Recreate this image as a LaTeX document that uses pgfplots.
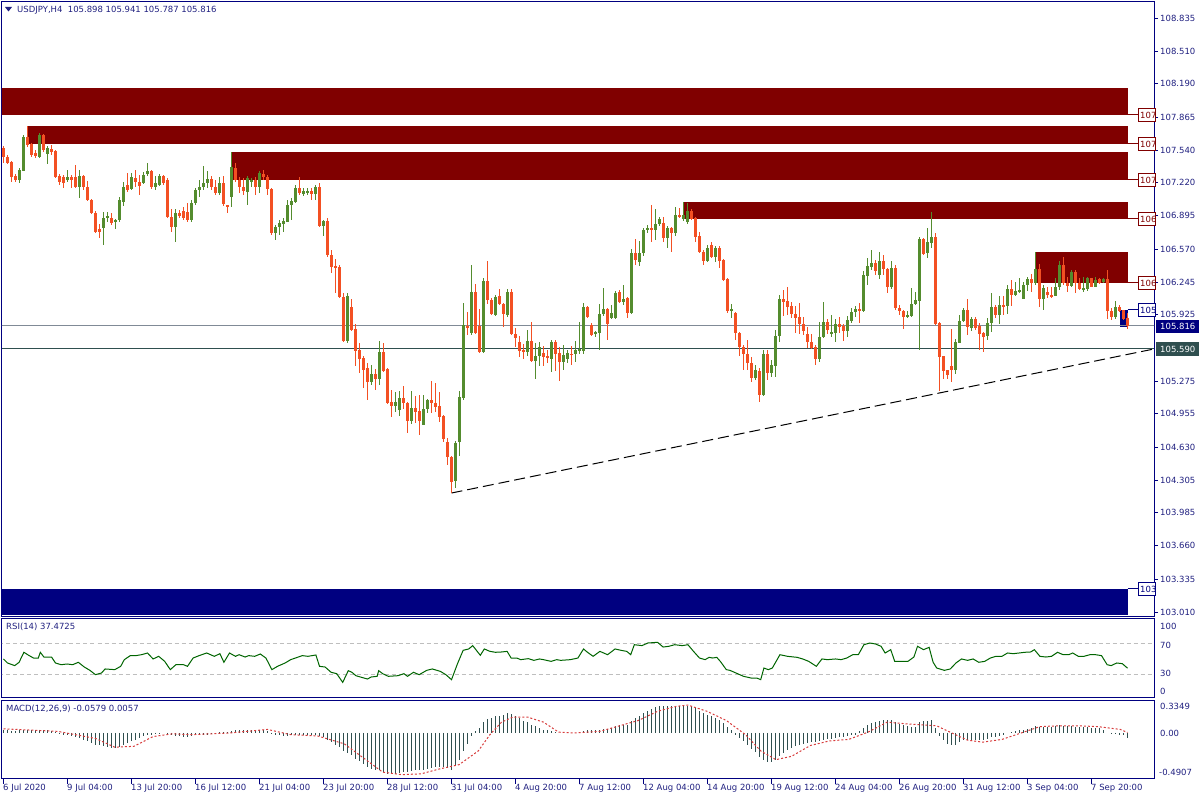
\documentclass[border=0pt]{standalone}
\usepackage{pgfplots}
\pgfplotsset{compat=1.18}
\usepackage{pgfplotstable}
\usepackage{fontspec}
\setmainfont{DejaVu Sans}
\definecolor{bull}{RGB}{84,140,46}
\definecolor{bear}{RGB}{243,80,35}
\definecolor{maroonc}{RGB}{128,0,0}
\definecolor{navyc}{RGB}{0,0,128}
\definecolor{txt}{RGB}{32,32,128}
\definecolor{dslate}{RGB}{47,79,79}
\definecolor{bidline}{RGB}{128,138,150}
\definecolor{rsigreen}{RGB}{0,100,0}
\definecolor{sigred}{RGB}{215,60,60}
\definecolor{lvl}{RGB}{190,190,190}
\newcommand{\lbl}{\fontsize{8.5}{10}\selectfont}

\pgfplotstableread{
x o h l c
0 107.561 107.580 107.414 107.472
1 107.472 107.492 107.404 107.414
2 107.423 107.433 107.227 107.276
3 107.286 107.306 107.227 107.247
4 107.247 107.365 107.217 107.345
5 107.335 107.688 107.335 107.668
6 107.668 107.776 107.570 107.590
7 107.600 107.609 107.472 107.492
8 107.512 107.541 107.462 107.482
9 107.472 107.707 107.462 107.688
10 107.688 107.698 107.521 107.541
11 107.502 107.580 107.404 107.561
12 107.551 107.590 107.492 107.521
13 107.531 107.541 107.266 107.276
14 107.286 107.306 107.198 107.227
15 107.276 107.296 107.168 107.217
16 107.247 107.345 107.227 107.276
17 107.276 107.296 107.168 107.247
18 107.276 107.394 107.168 107.178
19 107.178 107.345 107.070 107.286
20 107.286 107.296 107.149 107.178
21 107.178 107.237 107.041 107.051
22 107.051 107.060 106.914 106.924
23 106.924 106.943 106.727 106.737
24 106.767 106.816 106.678 106.737
25 106.776 106.933 106.610 106.874
26 106.874 106.933 106.835 106.894
27 106.874 106.924 106.806 106.825
28 106.835 106.865 106.767 106.855
29 106.855 107.080 106.835 107.051
30 107.031 107.227 106.992 107.178
31 107.198 107.315 107.129 107.149
32 107.158 107.315 107.149 107.276
33 107.266 107.345 107.178 107.227
34 107.227 107.296 107.100 107.188
35 107.217 107.325 107.208 107.296
36 107.306 107.414 107.286 107.335
37 107.335 107.345 107.158 107.178
38 107.178 107.286 107.149 107.217
39 107.198 107.306 107.188 107.286
40 107.286 107.296 107.198 107.217
41 107.247 107.266 106.874 106.884
42 106.884 106.963 106.737 106.786
43 106.786 106.963 106.639 106.924
44 106.924 106.953 106.874 106.894
45 106.943 106.982 106.855 106.874
46 106.933 107.021 106.835 106.855
47 106.855 107.051 106.835 107.021
48 107.021 107.168 107.002 107.149
49 107.149 107.247 107.080 107.178
50 107.178 107.384 107.149 107.217
51 107.217 107.335 107.168 107.257
52 107.257 107.286 107.149 107.178
53 107.178 107.247 107.100 107.119
54 107.119 107.276 107.100 107.217
55 107.217 107.286 106.992 107.011
56 107.002 107.002 106.924 106.992
57 107.080 107.521 106.982 107.374
58 107.365 107.414 107.227 107.247
59 107.247 107.276 107.119 107.178
60 107.178 107.266 107.100 107.139
61 107.129 107.286 107.002 107.266
62 107.227 107.266 107.178 107.247
63 107.247 107.276 107.100 107.178
64 107.178 107.335 107.119 107.315
65 107.306 107.345 107.247 107.276
66 107.276 107.296 107.100 107.158
67 107.158 107.168 106.708 106.727
68 106.727 106.806 106.659 106.786
69 106.786 106.855 106.708 106.825
70 106.816 106.874 106.737 106.845
71 106.835 107.051 106.835 107.002
72 107.002 107.070 106.855 107.041
73 107.031 107.198 107.021 107.168
74 107.168 107.276 107.100 107.119
75 107.110 107.168 107.090 107.139
76 107.129 107.168 107.100 107.139
77 107.139 107.168 107.051 107.110
78 107.110 107.198 107.051 107.178
79 107.178 107.217 106.786 106.796
80 106.796 106.855 106.698 106.845
81 106.845 106.874 106.492 106.512
82 106.512 106.561 106.335 106.394
83 106.404 106.472 106.139 106.394
84 106.394 106.414 106.090 106.100
85 106.100 106.139 105.659 105.668
86 105.668 106.139 105.649 106.109
87 106.002 106.080 105.766 105.776
88 105.786 105.835 105.423 105.570
89 105.580 105.649 105.355 105.492
90 105.502 105.521 105.207 105.384
91 105.404 105.453 105.090 105.266
92 105.266 105.433 105.237 105.345
93 105.345 105.394 105.188 105.296
94 105.296 105.668 105.237 105.561
95 105.561 105.649 105.365 105.374
96 105.394 105.404 105.051 105.060
97 105.070 105.188 104.923 105.031
98 105.031 105.168 104.973 105.070
99 104.992 105.178 104.933 105.109
100 105.109 105.227 105.002 105.060
101 105.060 105.070 104.766 104.884
102 104.884 105.178 104.855 105.011
103 105.011 105.129 104.865 104.973
104 104.982 105.139 104.747 104.884
105 104.845 105.139 104.845 105.002
106 105.002 105.100 104.963 105.090
107 105.090 105.276 104.963 105.060
108 105.060 105.257 104.973 105.021
109 105.031 105.168 104.874 104.923
110 104.933 104.943 104.678 104.708
111 104.678 104.717 104.453 104.531
112 104.531 104.541 104.178 104.286
113 104.296 104.688 104.227 104.668
114 104.678 105.178 104.541 105.119
115 105.109 106.041 105.090 105.825
116 105.815 105.953 105.727 105.805
117 105.747 106.414 105.727 106.149
118 106.149 106.227 105.737 105.747
119 105.815 105.982 105.551 105.561
120 105.561 106.286 105.551 106.257
121 106.257 106.453 106.031 106.070
122 106.070 106.090 105.923 105.933
123 105.923 106.119 105.913 106.100
124 106.109 106.178 106.021 106.031
125 106.031 106.041 105.805 105.933
126 105.923 106.178 105.903 106.149
127 106.149 106.178 105.727 105.737
128 105.737 105.796 105.610 105.698
129 105.659 105.717 105.512 105.570
130 105.580 105.639 105.492 105.561
131 105.561 105.776 105.521 105.668
132 105.668 105.855 105.463 105.472
133 105.472 105.649 105.296 105.521
134 105.521 105.659 105.423 105.610
135 105.551 105.619 105.423 105.512
136 105.521 105.580 105.453 105.502
137 105.492 105.678 105.365 105.659
138 105.659 105.678 105.374 105.541
139 105.551 105.610 105.276 105.463
140 105.463 105.629 105.384 105.531
141 105.492 105.580 105.453 105.551
142 105.541 105.619 105.433 105.531
143 105.541 105.668 105.463 105.580
144 105.570 105.855 105.541 105.590
145 105.570 106.041 105.541 106.002
146 106.002 106.011 105.894 105.903
147 105.825 105.845 105.717 105.727
148 105.737 105.766 105.708 105.757
149 105.747 106.031 105.580 105.933
150 105.933 106.188 105.913 105.982
151 105.982 105.992 105.678 105.835
152 105.894 106.021 105.884 105.943
153 105.894 106.158 105.884 106.139
154 106.149 106.168 106.041 106.051
155 106.051 106.217 106.021 106.080
156 106.090 106.100 105.894 105.943
157 105.943 106.570 105.933 106.531
158 106.531 106.668 106.413 106.463
159 106.443 106.649 106.404 106.531
160 106.531 106.776 106.502 106.757
161 106.757 106.806 106.727 106.776
162 106.776 107.002 106.639 106.757
163 106.757 106.963 106.659 106.816
164 106.816 106.884 106.796 106.865
165 106.825 106.884 106.639 106.678
166 106.678 106.796 106.580 106.776
167 106.776 106.786 106.541 106.727
168 106.727 106.982 106.698 106.904
169 106.904 106.972 106.874 106.894
170 106.865 107.031 106.845 106.904
171 106.835 107.021 106.816 106.943
172 106.943 106.963 106.855 106.865
173 106.874 106.884 106.639 106.688
174 106.698 106.737 106.531 106.541
175 106.541 106.561 106.413 106.453
176 106.453 106.610 106.443 106.580
177 106.610 106.639 106.482 106.492
178 106.492 106.600 106.443 106.580
179 106.580 106.600 106.384 106.453
180 106.463 106.472 106.257 106.266
181 106.276 106.286 105.943 105.963
182 105.963 106.031 105.894 105.982
183 105.943 105.953 105.678 105.747
184 105.747 105.757 105.521 105.610
185 105.610 105.629 105.384 105.541
186 105.541 105.678 105.384 105.453
187 105.453 105.512 105.266 105.306
188 105.306 105.433 105.286 105.384
189 105.374 105.404 105.070 105.139
190 105.139 105.580 105.129 105.541
191 105.541 105.580 105.286 105.355
192 105.355 105.482 105.315 105.433
193 105.423 105.776 105.315 105.717
194 105.717 106.119 105.659 106.080
195 106.080 106.168 105.913 106.051
196 106.060 106.198 105.923 106.002
197 106.011 106.051 105.894 105.933
198 105.933 106.011 105.747 105.894
199 105.903 106.041 105.737 105.835
200 105.835 105.903 105.727 105.766
201 105.737 105.805 105.600 105.659
202 105.659 105.737 105.590 105.600
203 105.610 105.629 105.433 105.492
204 105.492 105.855 105.463 105.708
205 105.708 106.051 105.698 105.855
206 105.855 105.884 105.737 105.776
207 105.737 105.923 105.708 105.757
208 105.747 105.884 105.659 105.835
209 105.835 105.903 105.747 105.805
210 105.815 105.835 105.668 105.766
211 105.766 105.913 105.708 105.874
212 105.864 105.992 105.845 105.953
213 105.953 106.011 105.903 105.982
214 105.982 106.041 105.845 105.963
215 105.963 106.355 105.953 106.315
216 106.306 106.482 106.217 106.404
217 106.394 106.561 106.364 106.433
218 106.433 106.463 106.315 106.355
219 106.315 106.541 106.276 106.453
220 106.453 106.512 106.315 106.374
221 106.374 106.384 106.139 106.198
222 106.198 106.453 106.178 106.384
223 106.384 106.414 105.972 105.992
224 105.992 106.021 105.923 105.963
225 105.963 105.972 105.786 105.903
226 105.903 105.963 105.894 105.923
227 105.913 106.188 105.903 106.031
228 106.031 106.149 106.021 106.070
229 106.060 106.688 105.580 106.668
230 106.668 106.678 106.512 106.522
231 106.531 106.776 106.482 106.639
232 106.629 106.933 106.580 106.688
233 106.688 106.727 105.825 105.835
234 105.845 105.855 105.178 105.512
235 105.521 105.521 105.296 105.374
236 105.384 105.384 105.296 105.335
237 105.423 105.786 105.266 105.384
238 105.384 105.688 105.345 105.659
239 105.649 105.923 105.649 105.864
240 105.864 105.992 105.855 105.972
241 105.972 106.080 105.727 105.805
242 105.796 105.903 105.766 105.884
243 105.884 105.903 105.776 105.796
244 105.815 105.845 105.580 105.737
245 105.747 105.757 105.561 105.708
246 105.717 105.894 105.678 105.845
247 105.845 106.139 105.757 106.002
248 106.002 106.021 105.894 105.923
249 105.923 106.109 105.835 106.021
250 106.021 106.109 105.923 106.011
251 106.011 106.217 105.933 106.178
252 106.178 106.266 106.011 106.119
253 106.119 106.247 106.109 106.158
254 106.158 106.286 106.139 106.168
255 106.080 106.247 106.080 106.217
256 106.217 106.296 106.158 106.276
257 106.276 106.325 106.149 106.237
258 106.237 106.541 106.217 106.374
259 106.374 106.423 106.002 106.080
260 106.080 106.217 105.972 106.188
261 106.149 106.198 106.090 106.119
262 106.119 106.198 106.090 106.109
263 106.109 106.286 106.109 106.198
264 106.198 106.453 106.168 106.414
265 106.414 106.492 106.217 106.237
266 106.237 106.296 106.149 106.208
267 106.208 106.364 106.198 106.345
268 106.345 106.364 106.139 106.237
269 106.237 106.286 106.168 106.178
270 106.178 106.296 106.149 106.188
271 106.178 106.296 106.158 106.286
272 106.286 106.286 106.198 106.198
273 106.198 106.296 106.198 106.266
274 106.276 106.286 106.227 106.237
275 106.247 106.286 106.237 106.276
276 106.276 106.364 105.884 105.963
277 105.963 105.992 105.874 105.903
278 105.903 106.060 105.884 106.002
279 106.002 106.021 105.953 105.963
280 105.972 105.972 105.874 105.884
281 105.898 105.941 105.787 105.816
}\candles

\pgfplotstableread{
x v
0 49.4
1.0 44.2
2.8 40.8
3.9 45.1
5.1 58.0
6.3 54.1
7.5 50.6
8.7 50.6
9.2 58.0
10.1 51.9
11.1 51.9
12.0 51.9
13.0 44.2
14.4 42.0
15.9 42.9
17.3 42.0
18.7 45.1
20.2 39.0
21.6 34.7
23.0 29.1
24.5 31.3
25.4 36.5
27.8 35.6
29.3 39.9
30.2 48.5
31.7 53.7
33.1 53.7
34.5 54.9
36.0 57.1
37.4 49.4
38.8 52.8
40.3 46.3
41.7 35.6
43.1 42.0
45.0 42.0
46.0 39.9
47.4 50.6
48.9 53.7
50.8 57.1
52.7 52.8
54.1 56.2
55.1 45.1
56.5 57.1
58.0 52.8
58.9 54.9
60.4 51.9
61.3 53.7
62.8 52.8
64.2 55.8
65.6 50.6
67.1 35.6
68.5 39.9
70.4 44.2
71.8 48.5
74.7 53.7
76.1 52.8
78.1 54.5
79.0 39.9
80.4 39.0
81.9 32.2
83.3 30.4
84.8 19.2
86.2 34.3
87.1 32.2
88.1 27.8
89.5 25.7
91.0 23.5
91.9 26.1
93.4 27.0
93.8 34.3
94.8 30.4
96.2 27.0
98.6 27.8
100.1 30.4
101.0 27.0
102.5 32.2
103.9 29.1
105.8 34.7
107.2 36.5
109.2 33.4
110.6 29.1
112.0 22.7
113.5 43.3
114.9 60.5
116.3 62.3
117.3 66.6
119.2 54.1
120.2 62.3
121.6 59.2
123.0 58.0
124.5 58.4
125.9 59.2
126.9 50.6
128.3 50.6
129.3 48.5
131.2 49.8
132.6 47.6
134.0 49.4
135.0 48.5
136.9 46.3
138.3 48.5
139.3 47.6
141.7 48.5
143.6 50.6
145.0 62.3
146.0 58.0
147.4 52.8
149.1 59.2
151.0 54.9
152.9 62.3
154.4 60.5
155.8 59.2
156.8 54.9
157.7 67.8
159.6 66.6
161.1 70.0
163.5 70.9
164.9 64.8
166.3 65.7
167.8 67.8
169.7 66.6
171.1 67.8
172.5 59.2
174.0 50.6
175.4 48.5
176.4 51.5
177.3 50.6
178.3 51.5
179.2 46.3
180.7 35.6
181.6 34.7
183.1 31.3
185.0 27.0
186.9 24.8
188.3 24.8
189.3 22.7
190.1 37.7
191.2 35.6
192.2 37.7
194.1 54.9
196.0 52.8
198.4 51.5
199.8 49.4
201.3 46.3
203.2 39.9
204.6 49.4
206.0 48.5
208.0 49.4
209.4 48.5
210.8 50.6
212.3 54.9
213.7 54.9
215.1 67.8
216.6 70.0
218.0 68.7
219.4 65.7
220.4 57.1
221.8 61.4
222.8 46.3
224.7 46.3
226.1 46.3
227.6 51.9
228.5 65.7
230.0 61.4
231.4 64.4
232.4 45.1
233.3 37.7
235.2 34.7
236.7 36.5
238.1 44.2
239.5 49.4
241.0 47.6
242.4 49.4
243.8 45.1
245.3 46.3
246.7 50.6
248.1 52.8
249.6 52.8
251.0 57.1
252.4 56.2
253.9 57.1
255.3 58.0
256.8 58.4
257.7 61.4
259.1 52.8
260.6 51.9
262.0 52.8
263.5 58.0
264.9 54.9
266.3 54.9
267.3 57.1
268.7 52.8
270.1 52.8
271.6 54.9
273.0 54.9
274.5 53.7
275.9 42.0
276.9 40.8
278.3 44.2
279.7 43.3
281.0 37.5
}\rsi

\pgfplotstableread{
v
0.03
0.03
0.02
0.02
0.03
0.04
0.04
0.03
0.03
0.04
0.03
0.03
0.02
0.01
-0.01
-0.02
-0.03
-0.04
-0.05
-0.06
-0.08
-0.10
-0.12
-0.14
-0.15
-0.16
-0.17
-0.18
-0.18
-0.17
-0.15
-0.12
-0.10
-0.08
-0.06
-0.04
-0.02
-0.02
-0.01
-0.01
0.00
-0.02
-0.03
-0.04
-0.04
-0.05
-0.05
-0.04
-0.03
-0.03
-0.02
-0.02
-0.01
-0.01
0.01
0.01
0.01
0.02
0.03
0.03
0.03
0.03
0.03
0.02
0.03
0.03
0.02
-0.01
-0.02
-0.03
-0.04
-0.04
-0.03
-0.03
-0.02
-0.02
-0.02
-0.02
-0.02
-0.04
-0.05
-0.08
-0.11
-0.14
-0.17
-0.22
-0.24
-0.27
-0.31
-0.34
-0.37
-0.41
-0.43
-0.45
-0.45
-0.47
-0.49
-0.49
-0.49
-0.48
-0.47
-0.47
-0.46
-0.45
-0.45
-0.44
-0.43
-0.42
-0.41
-0.41
-0.41
-0.42
-0.44
-0.40
-0.33
-0.22
-0.13
-0.04
0.02
0.06
0.13
0.17
0.18
0.20
0.21
0.22
0.24
0.23
0.21
0.18
0.15
0.13
0.10
0.08
0.06
0.04
0.03
0.02
0.01
0.00
0.00
0.00
0.00
0.00
0.01
0.02
0.03
0.03
0.03
0.04
0.05
0.05
0.06
0.08
0.09
0.10
0.10
0.15
0.18
0.21
0.24
0.27
0.29
0.31
0.32
0.33
0.33
0.33
0.33
0.33
0.33
0.33
0.32
0.30
0.27
0.24
0.22
0.20
0.18
0.16
0.12
0.07
0.03
-0.02
-0.06
-0.10
-0.15
-0.19
-0.23
-0.29
-0.32
-0.35
-0.35
-0.33
-0.28
-0.24
-0.21
-0.18
-0.16
-0.14
-0.13
-0.12
-0.11
-0.11
-0.10
-0.08
-0.07
-0.07
-0.06
-0.05
-0.05
-0.04
-0.03
-0.02
0.02
0.06
0.09
0.12
0.13
0.15
0.16
0.16
0.16
0.13
0.11
0.10
0.08
0.07
0.07
0.13
0.14
0.15
0.16
0.06
-0.04
-0.09
-0.13
-0.15
-0.14
-0.11
-0.09
-0.09
-0.08
-0.08
-0.08
-0.08
-0.07
-0.05
-0.05
-0.04
-0.03
0.00
0.01
0.02
0.03
0.04
0.05
0.06
0.08
0.07
0.07
0.07
0.07
0.08
0.09
0.08
0.08
0.08
0.07
0.07
0.07
0.07
0.06
0.06
0.06
0.04
0.00
-0.01
-0.01
-0.02
-0.02
-0.058
}\hist

\pgfplotstableread{
x v
0 0.05
13.5 0.02
23 -0.065
27.8 -0.17
32.6 -0.16
37.4 -0.043
42.2 -0.01
47 -0.02
56.5 0.0
66 0.043
71.8 -0.02
78.5 -0.035
85.2 -0.13
90 -0.30
94.8 -0.47
99.6 -0.50
104.4 -0.49
109.1 -0.43
113.9 -0.38
118.7 -0.215
121.6 -0.02
124.5 0.13
127.3 0.19
131.1 0.19
135 0.13
138.8 0.01
142.6 0.0
149.1 0.02
158.7 0.15
163.5 0.26
168.2 0.32
171.1 0.335
175.9 0.26
180.7 0.15
185.5 -0.02
189.3 -0.215
193.1 -0.32
197 -0.28
201.7 -0.15
206.5 -0.095
211.3 -0.077
216.1 0.01
220.9 0.13
225.7 0.11
230.4 0.095
233.3 0.086
237.1 0.0
241 -0.086
244.8 -0.11
249.6 -0.077
254.4 0.0
259.1 0.077
263.9 0.086
268.7 0.086
273.5 0.077
279.2 0.043
281 0.0057
}\signal

\pgfplotsset{
  panel/.style={scale only axis, width=1152pt, xmin=-0.375, xmax=287.625,
    axis line style={draw=navyc, line width=1pt},
    ticklabel style={font=\lbl, text=txt}},
  wick/.style={draw=none, forget plot, error bars/.cd, y dir=both, y explicit,
    error mark=none, error bar style={line width=1pt, draw=#1}},
  body/.style={draw=none, forget plot, error bars/.cd, y dir=both, y explicit,
    error mark=none, error bar style={line width=3pt, draw=#1}},
}

\begin{document}
\lbl
\begin{tikzpicture}[x=1pt,y=1pt]
\useasboundingbox (0,0) rectangle (1200,800);

% ---------------- main price panel ----------------
\begin{axis}[panel, at={(2pt,183pt)}, anchor=south west, height=615pt,
  ymin=102.9625, ymax=108.992, xtick=\empty,
  ytick pos=right, tick align=outside, major tick length=4pt,
  ytick style={draw=navyc, line width=0.8pt},
  ytick={103.010,103.335,103.660,103.985,104.305,104.630,104.955,105.275,105.925,106.245,106.570,106.895,107.220,107.540,107.865,108.190,108.510,108.835},
  yticklabels={103.010,103.335,103.660,103.985,104.305,104.630,104.955,105.275,105.925,106.245,106.570,106.895,107.220,107.540,107.865,108.190,108.510,108.835},
  yticklabel style={anchor=west, inner sep=0pt, xshift=2pt}]
  % zones
  \addplot[fill=maroonc, draw=none, forget plot] coordinates {(-1,108.149) (281,108.149) (281,107.884) (-1,107.884)};
  \addplot[fill=maroonc, draw=none, forget plot] coordinates {(6,107.776) (281,107.776) (281,107.600) (6,107.600)};
  \addplot[fill=maroonc, draw=none, forget plot] coordinates {(57,107.521) (281,107.521) (281,107.247) (57,107.247)};
  \addplot[fill=maroonc, draw=none, forget plot] coordinates {(170,107.031) (281,107.031) (281,106.864) (170,106.864)};
  \addplot[fill=maroonc, draw=none, forget plot] coordinates {(258,106.541) (281,106.541) (281,106.237) (258,106.237)};
  \addplot[fill=navyc, draw=none, forget plot] coordinates {(279,105.972) (281,105.972) (281,105.806) (279,105.806)};
  \addplot[fill=navyc, draw=none, forget plot] coordinates {(-1,103.237) (281,103.237) (281,102.982) (-1,102.982)};
  % horizontal lines and trend line
  \addplot[bidline, line width=1pt, forget plot] coordinates {(-1,105.816) (290,105.816)};
  \addplot[dslate, line width=1pt, forget plot] coordinates {(-1,105.590) (290,105.590)};
  \addplot[black, line width=1pt, dash pattern=on 11pt off 5pt, forget plot] coordinates {(112,104.178) (287.6,105.590)};
  % candles
  \addplot[wick=bull] table[x=x, y expr={(\thisrow{h}+\thisrow{l})/2}, y error expr={(\thisrow{h}-\thisrow{l})/2},
     restrict expr to domain={\thisrow{c}-\thisrow{o}}{0:10}] {\candles};
  \addplot[wick=bear] table[x=x, y expr={(\thisrow{h}+\thisrow{l})/2}, y error expr={(\thisrow{h}-\thisrow{l})/2},
     restrict expr to domain={\thisrow{o}-\thisrow{c}}{0.0001:10}] {\candles};
  \addplot[body=bull] table[x=x, y expr={(\thisrow{o}+\thisrow{c})/2}, y error expr={max(abs(\thisrow{c}-\thisrow{o})/2,0.005)},
     restrict expr to domain={\thisrow{c}-\thisrow{o}}{0:10}] {\candles};
  \addplot[body=bear] table[x=x, y expr={(\thisrow{o}+\thisrow{c})/2}, y error expr={max(abs(\thisrow{c}-\thisrow{o})/2,0.005)},
     restrict expr to domain={\thisrow{o}-\thisrow{c}}{0.0001:10}] {\candles};
\end{axis}

% ---------------- RSI panel ----------------
\begin{axis}[panel, at={(2pt,102pt)}, anchor=south west, height=79pt,
  ymin=-0.97, ymax=100.97, xtick=\empty, ytick=\empty]
  \addplot[lvl, line width=0.8pt, dash pattern=on 4pt off 3pt, forget plot] coordinates {(-1,70) (290,70)};
  \addplot[lvl, line width=0.8pt, dash pattern=on 4pt off 3pt, forget plot] coordinates {(-1,30) (290,30)};
  \addplot[rsigreen, line width=1pt] table[x=x, y=v] {\rsi};
\end{axis}

% ---------------- MACD panel ----------------
\begin{axis}[panel, at={(2pt,21pt)}, anchor=south west, height=79pt,
  ymin=-0.552, ymax=0.396, ytick=\empty,
  xtick={0,16,32,48,64,80,96,112,128,144,160,176,192,208,224,240,256,272},
  xticklabels={6 Jul 2020,9 Jul 04:00,13 Jul 20:00,16 Jul 12:00,21 Jul 04:00,23 Jul 20:00,28 Jul 12:00,31 Jul 04:00,4 Aug 20:00,7 Aug 12:00,12 Aug 04:00,14 Aug 20:00,19 Aug 12:00,24 Aug 04:00,26 Aug 20:00,31 Aug 12:00,3 Sep 04:00,7 Sep 20:00},
  xtick pos=bottom, tick align=outside, major tick length=5pt,
  xtick style={draw=navyc, line width=0.8pt},
  xticklabel style={anchor=north west, inner sep=0pt, xshift=-0.5pt}]
  \addplot[ycomb, draw=dslate, line width=1pt] table[x expr=\coordindex, y=v] {\hist};
  \addplot[sigred, line width=1pt, dash pattern=on 2pt off 2pt] table[x=x, y=v] {\signal};
\end{axis}

% ---------------- texts and labels ----------------
\fill[txt] (5,793) -- (12,793) -- (8.5,788.5) -- cycle;
\node[anchor=west, inner sep=0pt, text=txt] at (17,790) {USDJPY,H4\ \ 105.898 105.941 105.787 105.816};
\node[anchor=west, inner sep=0pt, text=txt] at (6,173) {RSI(14) 37.4725};
\node[anchor=west, inner sep=0pt, text=txt] at (6,91) {MACD(12,26,9) -0.0579 0.0057};

% zone price boxes (their text is cut by the price scale)
\foreach \yy/\cc/\tt in {685/maroonc/107, 656/maroonc/107, 620/maroonc/107, 581/maroonc/106, 517/maroonc/106, 490/navyc/105, 211/navyc/103}{
  \draw[\cc, line width=1pt] (1127.5,\yy) -- (1138,\yy);
  \fill[white] (1138.5,\yy-6.5) rectangle (1155.5,\yy+6.5);
  \node[anchor=west, inner sep=0pt, text=\cc] at (1140,\yy) {\tt};
  \draw[\cc, line width=1pt, fill=none] (1138.5,\yy-6.5) rectangle (1155.5,\yy+6.5);
}

% highlighted price labels
\fill[navyc] (1156,467) rectangle (1199,480);
\node[anchor=west, inner sep=0pt, text=white] at (1160,473.5) {105.816};
\fill[dslate] (1156,444) rectangle (1199,458);
\node[anchor=west, inner sep=0pt, text=white] at (1160,451) {105.590};

% RSI scale labels
\node[anchor=west, inner sep=0pt, text=txt] at (1160,174) {100};
\node[anchor=west, inner sep=0pt, text=txt] at (1160,155) {70};
\node[anchor=west, inner sep=0pt, text=txt] at (1160,127) {30};
\node[anchor=west, inner sep=0pt, text=txt] at (1160,109) {0};
% MACD scale labels
\node[anchor=west, inner sep=0pt, text=txt] at (1160,94) {0.3349};
\node[anchor=west, inner sep=0pt, text=txt] at (1160,67) {0.00};
\node[anchor=west, inner sep=0pt, text=txt] at (1159,28) {-0.4907};
\end{tikzpicture}
\end{document}
